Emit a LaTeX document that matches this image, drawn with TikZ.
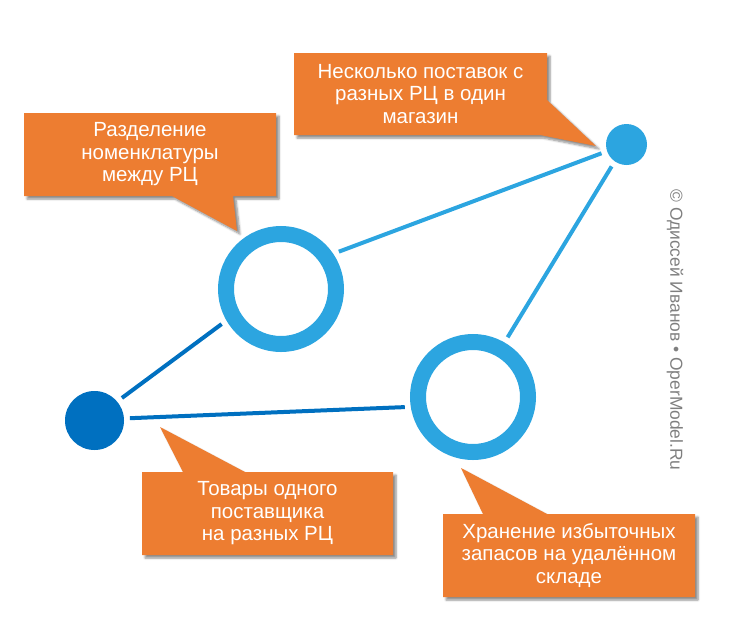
\documentclass[tikz,border=0pt]{standalone}
\usepackage{fontspec}
\setmainfont{Liberation Sans}
\usetikzlibrary{shadows.blur}
\definecolor{calloutorange}{HTML}{ED7D31}
\definecolor{lightblue}{HTML}{2CA5E0}
\definecolor{darkblue}{HTML}{0070C0}
\definecolor{credgray}{HTML}{7F7F7F}
\tikzset{
  callout/.style={fill=calloutorange, blur shadow={shadow xshift=3pt, shadow yshift=-3pt, shadow blur steps=6, shadow opacity=45}},
  callouttext/.style={text=white, align=center, font=\fontsize{20.5}{22.5}\selectfont, inner sep=0pt},
  ring/.style={circle, draw=lightblue, line width=16pt, minimum size=110pt, inner sep=0pt},
  lightlink/.style={draw=lightblue, line width=4pt, shorten <=6pt, shorten >=6pt},
  darklink/.style={draw=darkblue, line width=4pt, shorten <=6pt, shorten >=6pt}
}
\begin{document}
\begin{tikzpicture}[x=1pt, y=-1pt]
\useasboundingbox (0,0) rectangle (732,638);
% callouts
\path[callout] (294,53) -- (547,53) -- (547,100) -- (596,146) -- (540,135) -- (294,135) -- cycle;
\path[callout] (24,113) -- (276,113) -- (276,196) -- (233,196) -- (237,231) -- (172,196) -- (24,196) -- cycle;
\path[callout] (142,472) -- (183,472) -- (160,427) -- (245,472) -- (393,472) -- (393,555) -- (142,555) -- cycle;
\path[callout] (443,514) -- (483,514) -- (461,468) -- (547,514) -- (695,514) -- (695,597) -- (443,597) -- cycle;
\node[callouttext] (t1) at (420.5,94) {Несколько поставок с\\разных РЦ в один\\магазин};
\node[callouttext] (t2) at (150,154.5) {Разделение\\номенклатуры\\между РЦ};
\node[callouttext] (t3) at (267.5,513.5) {Товары одного\\поставщика\\на разных РЦ};
\node[callouttext] (t4) at (569,555.5) {Хранение избыточных\\запасов на удалённом\\складе};
% circles
\node[ring] (r1) at (281,289) {};
\node[ring] (r2) at (473,397) {};
\node[circle, fill=lightblue, minimum size=41pt, inner sep=0pt, outer sep=0pt] (s) at (626.5,144.5) {};
\node[circle, fill=darkblue, minimum size=59pt, inner sep=0pt, outer sep=0pt] (d) at (94.5,420.5) {};
% connectors
\draw[lightlink] (r1.34) -- (s.199);
\draw[lightlink] (s.235) -- (r2.60);
\draw[darklink] (d.40) -- (r1.210);
\draw[darklink] (d.4) -- (r2.189);
% credit
\node[text=credgray, rotate=-90, font=\fontsize{17.4}{20}\selectfont, inner sep=0pt] (cr) at (675,330) {© Одиссей Иванов • OperModel.Ru};
\end{tikzpicture}
\end{document}
